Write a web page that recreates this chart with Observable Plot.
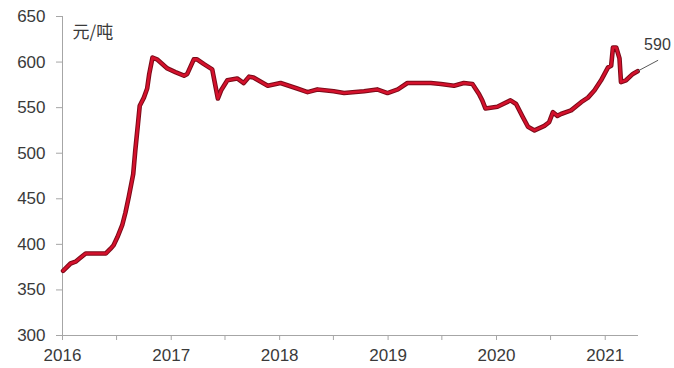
<!DOCTYPE html>
<html><head><meta charset="utf-8">
<script src="https://cdn.jsdelivr.net/npm/d3@7"></script>
<script src="https://cdn.jsdelivr.net/npm/@observablehq/plot@0.6"></script>
<style>
html,body{margin:0;padding:0;background:#fff;}
#chart{position:relative;width:674px;height:368px;}
</style></head>
<body><div id="chart"></div>
<script>
const dates = ["2016-01-03","2016-01-28","2016-02-14","2016-02-25","2016-03-19","2016-05-26","2016-06-10","2016-06-21","2016-07-04","2016-07-20","2016-07-31","2016-08-11","2016-08-26","2016-09-02","2016-09-11","2016-09-17","2016-10-01","2016-10-12","2016-10-19","2016-10-30","2016-11-14","2016-12-19","2017-01-15","2017-02-13","2017-02-24","2017-03-18","2017-03-29","2017-04-20","2017-05-19","2017-06-07","2017-06-18","2017-07-09","2017-08-11","2017-09-02","2017-09-20","2017-10-05","2017-11-22","2018-01-04","2018-03-01","2018-04-05","2018-05-08","2018-07-02","2018-08-06","2018-10-12","2018-11-25","2018-12-30","2019-02-03","2019-03-07","2019-05-25","2019-06-28","2019-08-11","2019-09-13","2019-10-12","2019-11-03","2019-11-14","2019-11-25","2020-01-04","2020-02-17","2020-03-07","2020-03-29","2020-04-16","2020-05-08","2020-06-10","2020-06-26","2020-07-09","2020-07-24","2020-08-05","2020-09-08","2020-10-12","2020-11-04","2020-11-26","2020-12-18","2021-01-10","2021-01-21","2021-01-27","2021-02-07","2021-02-18","2021-02-23","2021-03-12","2021-04-04","2021-04-20"];
const prices = [371,379,381,384,390,390,395,399,408,421,435,452,477,503,532,552,561,571,587,605,603,593,589,585,587,603,603,598,592,560,569,580,582,577,584,583,574,577,571,567,570,568,566,568,570,566,570,577,577,576,574,577,576,565,558,549,551,558,554,540,529,525,530,534,545,541,543,547,556,561,569,580,594,596,616,616,604,578,580,587,590];
const yTicks = [300,350,400,450,500,550,600,650];
const yearTicks = ["2016-01-01","2017-01-01","2018-01-01","2019-01-01","2020-01-01","2021-01-01"];
const halfTicks = ["2016-07-01","2017-07-01","2018-07-01","2019-07-01","2020-07-01"];
const xDomain = ["2016-01-01","2021-04-23"];
const unitLabel = "元/吨";
const lastLabel = "590";
const leaderEnd = {date: "2021-06-28", value: 602};

const parse = d3.utcParse("%Y-%m-%d");
const data = dates.map((d,i)=>({date: parse(d), value: prices[i]}));
const last = data[data.length-1];
const fontFamily = "'Liberation Sans', Arial, sans-serif";

const chart = Plot.plot({
  width: 674, height: 368,
  marginLeft: 62, marginRight: 36, marginTop: 16, marginBottom: 33,
  style: {fontFamily, fontSize: "17px", color: "#404040", background: "#fff"},
  x: {type: "utc", domain: xDomain.map(parse)},
  y: {domain: [300, 650]},
  marks: [
    Plot.ruleY([300], {stroke: "#a6a6a6", strokeWidth: 1}),
    Plot.ruleX([parse(xDomain[0])], {stroke: "#a6a6a6", strokeWidth: 1}),
    Plot.axisY({ticks: yTicks, tickSize: 6, tickPadding: 11, stroke: "#a6a6a6", fill: "#3a3a3a", label: null, fontSize: 17}),
    Plot.axisX({ticks: yearTicks.map(parse), tickFormat: "%Y", tickSize: 5, tickPadding: 8, stroke: "#a6a6a6", fill: "#3a3a3a", label: null, fontSize: 17}),
    Plot.axisX({ticks: halfTicks.map(parse), tickFormat: () => "", tickSize: 5, stroke: "#a6a6a6", label: null}),
    Plot.line(data, {x: "date", y: "value", stroke: "#7a0a18", strokeWidth: 4.6, curve: "linear", strokeLinejoin: "round"}),
    Plot.line(data, {x: "date", y: "value", stroke: "#d4112c", strokeWidth: 2.6, curve: "linear", strokeLinejoin: "round"}),
    Plot.link([{x1: last.date, y1: last.value, x2: parse(leaderEnd.date), y2: leaderEnd.value}], {x1: "x1", y1: "y1", x2: "x2", y2: "y2", stroke: "#595959", strokeWidth: 1}),
    Plot.text([lastLabel], {x: parse(leaderEnd.date), y: leaderEnd.value, text: d => d, dx: -14, dy: -15, textAnchor: "start", fill: "#3a3a3a", fontSize: 16}),
    Plot.text([unitLabel], {frameAnchor: "top-left", dx: 10, dy: 9, text: d => d, textAnchor: "start", fill: "#3a3a3a", fontSize: 17, fontFamily: "'Noto Sans CJK SC', sans-serif"})
  ]
});
document.getElementById("chart").appendChild(chart);
</script>
</body></html>
